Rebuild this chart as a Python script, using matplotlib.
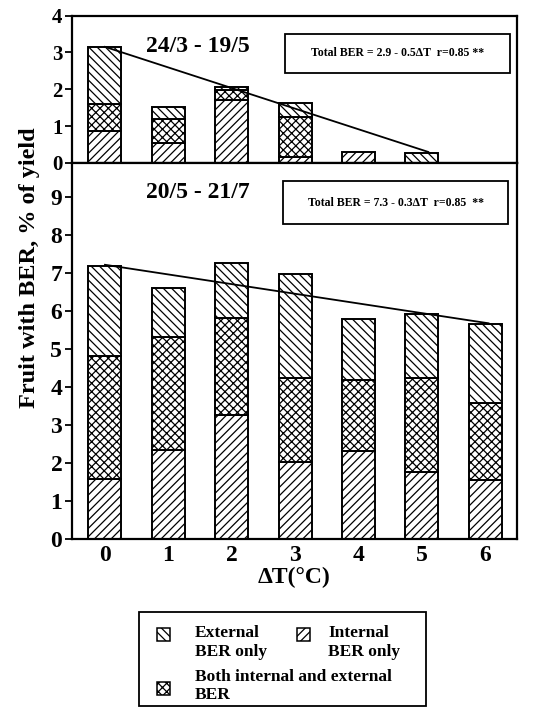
import matplotlib
matplotlib.use("Agg")
import matplotlib.pyplot as plt
from matplotlib.patches import Rectangle

plt.rcParams["font.family"] = ["Liberation Serif", "DejaVu Serif"]
plt.rcParams["font.weight"] = "bold"
plt.rcParams["hatch.linewidth"] = 0.9

# delta T (deg C)
dt_top = [0, 1, 2, 3, 4, 5]
dt_bot = [0, 1, 2, 3, 4, 5, 6]

# 24/3 - 19/5 (% of yield)
top_internal = [0.87, 0.55, 1.70, 0.17, 0.30, 0.00]
top_both = [0.72, 0.63, 0.29, 1.07, 0.00, 0.00]
top_external = [1.55, 0.34, 0.06, 0.40, 0.00, 0.28]

# 20/5 - 21/7 (% of yield)
bot_internal = [1.58, 2.34, 3.26, 2.02, 2.32, 1.77, 1.55]
bot_both = [3.24, 2.98, 2.56, 2.21, 1.86, 2.46, 2.02]
bot_external = [2.37, 1.28, 1.46, 2.76, 1.61, 1.69, 2.10]

# regression lines as drawn
top_fit_x = [0.0, 5.1]
top_fit_y = [3.15, 0.30]
bot_fit_x = [0.0, 6.05]
bot_fit_y = [7.22, 5.68]

xticks = [0, 1, 2, 3, 4, 5, 6]

HATCH_INT = "////"
HATCH_BOTH = "xxxx"
HATCH_EXT = "\\\\\\\\"

W, H = 533, 712
fig = plt.figure(figsize=(W / 100, H / 100), dpi=100)


def fx(px):
    return px / W


def fy(py):
    return 1 - py / H


ax_top = fig.add_axes([fx(72), fy(163), fx(517) - fx(72), fy(15.5) - fy(163)])
ax_bot = fig.add_axes([fx(72), fy(539), fx(517) - fx(72), fy(163) - fy(539)])

bar_kw = dict(width=0.52, color="white", edgecolor="black", linewidth=1.4, zorder=2)


def stacked(ax, x, internal, both, external):
    b1 = list(internal)
    b2 = [i + b for i, b in zip(internal, both)]
    for xi, h in zip(x, internal):
        if h > 0:
            ax.bar(xi, h, hatch=HATCH_INT, **bar_kw)
    for xi, h, bot in zip(x, both, b1):
        if h > 0:
            ax.bar(xi, h, bottom=bot, hatch=HATCH_BOTH, **bar_kw)
    for xi, h, bot in zip(x, external, b2):
        if h > 0:
            ax.bar(xi, h, bottom=bot, hatch=HATCH_EXT, **bar_kw)


stacked(ax_top, dt_top, top_internal, top_both, top_external)
stacked(ax_bot, dt_bot, bot_internal, bot_both, bot_external)

ax_top.plot(top_fit_x, top_fit_y, color="black", linewidth=1.3, zorder=3)
ax_bot.plot(bot_fit_x, bot_fit_y, color="black", linewidth=1.3, zorder=3)

for ax in (ax_top, ax_bot):
    ax.set_xlim(-0.52, 6.5)
    for s in ax.spines.values():
        s.set_linewidth(1.6)
    ax.tick_params(axis="y", direction="out", length=5, width=1.3, pad=2)
    ax.tick_params(axis="x", length=0)

ax_top.set_ylim(0, 4)
ax_top.set_yticks([0, 1, 2, 3, 4])
ax_top.set_xticks([])
ax_top.tick_params(axis="y", labelsize=15)

ax_bot.set_ylim(0, 9.9)
ax_bot.set_yticks(range(10))
ax_bot.set_xticks(xticks)
ax_bot.tick_params(axis="y", labelsize=17)
ax_bot.tick_params(axis="x", labelsize=17, pad=4)
ax_bot.set_xlabel("\u0394T(\u00b0C)", fontsize=17, fontweight="bold", labelpad=1)

fig.text(fx(30), fy(268), "Fruit with BER, % of yield", rotation=90,
         ha="center", va="center", fontsize=17.5, fontweight="bold")

fig.text(fx(198), fy(46), "24/3 - 19/5", ha="center", va="center", fontsize=17, fontweight="bold")
fig.text(fx(198), fy(193), "20/5 - 21/7", ha="center", va="center", fontsize=17, fontweight="bold")

# equation boxes
for (x0, y0, x1, y1, txt) in [
    (285, 34, 510, 73, "Total BER = 2.9 - 0.5\u0394T  r=0.85 **"),
    (283, 181, 508, 224, "Total BER = 7.3 - 0.3\u0394T  r=0.85  **"),
]:
    fig.patches.append(Rectangle((fx(x0), fy(y1)), fx(x1) - fx(x0), fy(y0) - fy(y1),
                                 transform=fig.transFigure, fill=False,
                                 edgecolor="black", linewidth=1.3))
    fig.text(fx((x0 + x1) / 2), fy((y0 + y1) / 2), txt, ha="center", va="center",
             fontsize=8.5, fontweight="bold")

# legend
fig.patches.append(Rectangle((fx(139), fy(706)), fx(426) - fx(139), fy(612) - fy(706),
                             transform=fig.transFigure, fill=False,
                             edgecolor="black", linewidth=1.3))
sw = 13
for (cx, cy, hatch) in [(163, 634, HATCH_EXT), (303, 634, HATCH_INT), (163, 688, HATCH_BOTH)]:
    fig.patches.append(Rectangle((fx(cx - sw / 2), fy(cy + sw / 2)), fx(sw), sw / H,
                                 transform=fig.transFigure, facecolor="white",
                                 edgecolor="black", linewidth=1.1, hatch=hatch))
leg_kw = dict(ha="left", va="center", fontsize=12.5, fontweight="bold")
fig.text(fx(195), fy(633), "External", **leg_kw)
fig.text(fx(195), fy(652), "BER only", **leg_kw)
fig.text(fx(328), fy(633), "Internal", **leg_kw)
fig.text(fx(328), fy(652), "BER only", **leg_kw)
fig.text(fx(195), fy(677), "Both internal and external", **leg_kw)
fig.text(fx(195), fy(695), "BER", **leg_kw)

fig.savefig("out.png", dpi=100)
